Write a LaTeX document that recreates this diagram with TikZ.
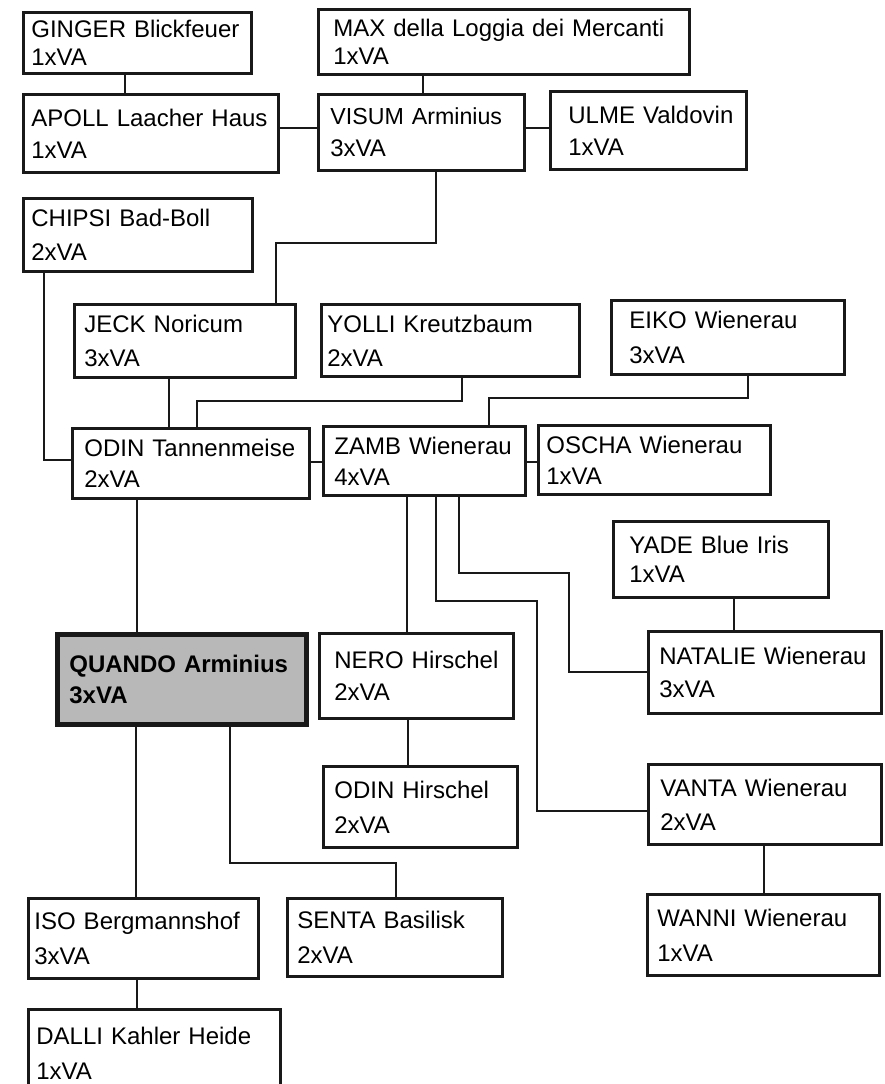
\documentclass[tikz,border=0pt]{standalone}
\usepackage{fontspec}
\setmainfont{Liberation Sans}

\begin{document}
\begin{tikzpicture}[x=0.5pt, y=-0.5pt,
        horse/.style n args={4}{draw=black!90, line width=1.4pt, anchor=north west, inner sep=0pt,
            text width=#1*0.5pt, minimum height=#2*0.5pt, align=left,
            font=\fontsize{12pt}{#4pt}\selectfont, execute at begin node={\leftskip=#3pt}},
        link/.style={draw=black!90, line width=1.1pt}]

    % --- PAGE ---
    \fill[white] (0,0) rectangle (885,1084);
    \path[use as bounding box] (0,0) rectangle (885,1084);
    \clip (0,0) rectangle (885,1084);

    % --- GRANDPARENTS OF THE SIRE LINE (TOP) ---
    \node[horse={228}{61}{4}{14}] (ginger) at (22,11) {GINGER Blickfeuer\\1xVA};
    \node[horse={371}{65}{7.5}{14}] (max) at (317,8) {MAX della Loggia dei Mercanti\\1xVA};
    \node[horse={255}{78}{4}{16}] (apoll) at (22,93) {APOLL Laacher Haus\\1xVA};
    \node[horse={206}{76}{6}{16}] (visum) at (317,93) {{\fontsize{11.6pt}{16pt}\selectfont VISUM Arminius}\\3xVA};
    \node[horse={196}{78}{9}{16}] (ulme) at (549,90) {ULME Valdovin\\1xVA};
    \node[horse={229}{73}{4}{17}] (chipsi) at (22,197) {CHIPSI Bad-Boll\\2xVA};

    % --- PARENTS ---
    \node[horse={221}{73}{5}{17}] (jeck) at (73,303) {JECK Noricum\\3xVA};
    \node[horse={258}{72}{3}{17}] (yolli) at (320,303) {YOLLI Kreutzbaum\\2xVA};
    \node[horse={233}{74}{9}{17.5}] (eiko) at (610,299) {EIKO Wienerau\\3xVA};
    \node[horse={237}{70}{6}{15.5}] (odinT) at (71,427) {ODIN Tannenmeise\\2xVA};
    \node[horse={202}{69}{5.5}{15.5}] (zamb) at (322,425) {ZAMB Wienerau\\4xVA};
    \node[horse={232}{69}{4}{15.5}] (oscha) at (537,424) {OSCHA Wienerau\\1xVA};
    \node[horse={215}{76}{8}{14.5}] (yade) at (612,520) {YADE Blue Iris\\1xVA};

    % --- QUANDO AND HALF SIBLINGS ---
    \node[horse={249}{90}{6}{15.5}, line width=2.4pt, fill=black!28] (quando) at (55,632) {\textbf{QUANDO Arminius}\\\textbf{3xVA}};
    \node[horse={194}{85}{7.5}{16}] (nero) at (318,632) {NERO Hirschel\\2xVA};
    \node[horse={233}{82}{5.5}{16.5}] (natalie) at (647,630) {NATALIE Wienerau\\3xVA};
    \node[horse={194}{81}{5.5}{17.5}] (odinH) at (322,765) {ODIN Hirschel\\2xVA};
    \node[horse={233}{80}{6}{17}] (vanta) at (647,763) {VANTA Wienerau\\2xVA};

    % --- OFFSPRING ---
    \node[horse={230}{80}{3}{17.5}] (iso) at (27,897) {ISO Bergmannshof\\3xVA};
    \node[horse={215}{78}{5}{17.5}] (senta) at (286,897) {SENTA Basilisk\\2xVA};
    \node[horse={232}{81}{5}{17.5}] (wanni) at (646,893) {WANNI Wienerau\\1xVA};
    \node[horse={252}{88}{4}{17.5}] (dalli) at (27,1008) {DALLI Kahler Heide\\1xVA};

    % --- LINES ---
    % top block
    \draw[link] (ginger.south -| 125,0) -- (apoll.north -| 125,0);
    \draw[link] (max.south -| 423,0) -- (visum.north -| 423,0);
    \draw[link] (apoll.east |- 0,128) -- (visum.west |- 0,128);
    \draw[link] (visum.east |- 0,128) -- (ulme.west |- 0,128);
    \draw[link] (visum.south -| 436,0) |- (276,243) -- (jeck.north -| 276,0);
    \draw[link] (chipsi.south -| 44,0) |- (odinT.west |- 0,460);

    % middle block
    \draw[link] (jeck.south -| 169,0) -- (odinT.north -| 169,0);
    \draw[link] (yolli.south -| 462,0) |- (197,401) -- (odinT.north -| 197,0);
    \draw[link] (eiko.south -| 748,0) |- (489,398) -- (zamb.north -| 489,0);
    \draw[link] (odinT.east |- 0,462) -- (zamb.west |- 0,462);
    \draw[link] (zamb.east |- 0,462) -- (oscha.west |- 0,462);

    % ZAMB offspring (3 lines)
    \draw[link] (zamb.south -| 407,0) -- (nero.north -| 407,0);
    \draw[link] (zamb.south -| 436,0) |- (537,601) |- (vanta.west |- 0,811);
    \draw[link] (zamb.south -| 459,0) |- (569,573) |- (natalie.west |- 0,672);
    \draw[link] (yade.south -| 734,0) -- (natalie.north -| 734,0);

    % lower block
    \draw[link] (odinT.south -| 137,0) -- (quando.north -| 137,0);
    \draw[link] (nero.south -| 408,0) -- (odinH.north -| 408,0);
    \draw[link] (vanta.south -| 764,0) -- (wanni.north -| 764,0);
    \draw[link] (quando.south -| 136,0) -- (iso.north -| 136,0);
    \draw[link] (quando.south -| 230,0) |- (396,863) -- (senta.north -| 396,0);
    \draw[link] (iso.south -| 137,0) -- (dalli.north -| 137,0);
\end{tikzpicture}
\end{document}
